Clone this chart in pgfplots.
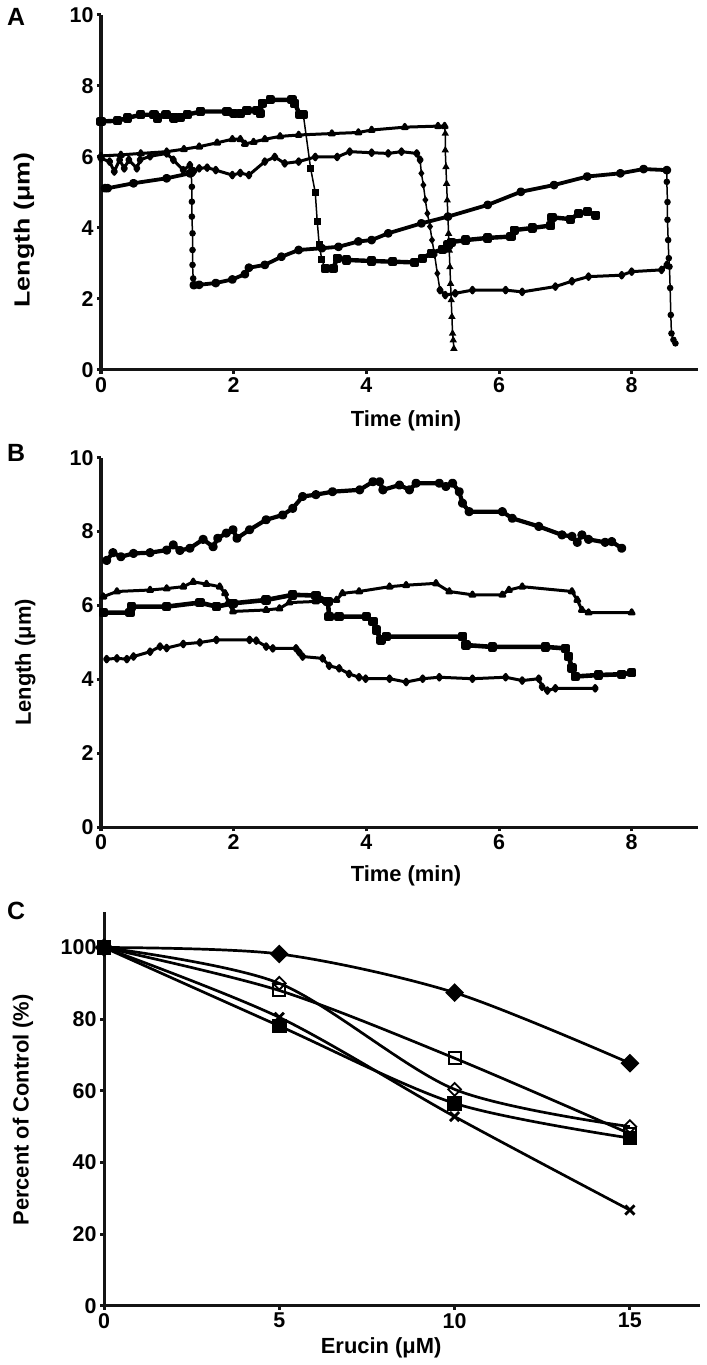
\documentclass[border=0pt]{standalone}
\usepackage{fontspec}
\setmainfont{Liberation Sans}
\usepackage{graphicx}
\usepackage{pgfplots}
\pgfplotsset{compat=1.18}
\newcommand{\lab}{\fontsize{22}{22}\selectfont\bfseries}
\newcommand{\tlab}{\fontsize{21.5}{21.5}\selectfont\bfseries}
\pgfplotsset{
  panel/.style={
    scale only axis,
    axis lines*=left,
    axis line style={line width=3bp, black!92},
    tick align=outside,
    major tick length=4bp,
    tick style={line width=3bp, black!92},
    tick label style={font=\tlab},
    label style={font=\lab},
    /pgf/number format/assume math mode=true,
    clip=false,
    xlabel style={anchor=center},
    ylabel style={anchor=center},
  },
  dense/.style={black, line width=3bp, line join=round},
  drop/.style={black, line width=1.5bp},
  msq/.style={mark=square*, mark size=2.4bp, mark options={solid}},
  mtr/.style={mark=triangle*, mark size=2.8bp, mark options={solid}},
  mdi/.style={mark=diamond*, mark size=2.8bp, mark options={solid}},
  mci/.style={mark=*, mark size=2.5bp, mark options={solid}},
}
\begin{document}
\begin{tikzpicture}
\useasboundingbox (0bp,0bp) rectangle (707bp,1365bp);
\node[font=\fontsize{25}{25}\selectfont\bfseries] at (16bp,1348.5bp) {A};
\node[font=\fontsize{25}{25}\selectfont\bfseries] at (16bp,912bp) {B};
\node[font=\fontsize{25}{25}\selectfont\bfseries] at (16bp,454bp) {C};

% ---------------- Panel A ----------------
\begin{axis}[panel, at={(101bp,995bp)}, anchor=south west,
  width=597bp, height=355bp, xmin=0, xmax=9, ymin=0, ymax=10,
  xtick={0,2,4,6,8}, ytick={0,2,4,6,8,10},
  xlabel={Time (min)}, ylabel={\scalebox{1.22}[1]{Length (μm)}},
  xlabel style={at={(rel axis cs:0.511,-0.1437)}},
  ylabel style={at={(rel axis cs:-0.129,0.394)}}]
% squares
\addplot[dense, msq, line width=4.4bp] coordinates {
(0,7.0) (0.25,7.02) (0.4,7.1) (0.6,7.19) (0.8,7.19) (0.85,7.1) (0.98,7.19) (1.1,7.1)
(1.2,7.12) (1.3,7.19) (1.5,7.28) (1.9,7.28) (2.0,7.23) (2.1,7.23) (2.2,7.32) (2.35,7.32)
(2.4,7.23) (2.43,7.51) (2.55,7.61) (2.88,7.61) (2.92,7.51) (3.0,7.19) (3.05,7.19)};
\addplot[drop, msq, mark size=2.8bp] coordinates {
(3.05,7.19) (3.16,5.68) (3.23,5.0) (3.26,4.18) (3.29,3.52) (3.33,3.1) (3.38,2.86)};
\addplot[dense, msq, line width=4.4bp] coordinates {
(3.38,2.86) (3.5,2.86) (3.56,3.15) (3.7,3.1) (4.08,3.07) (4.4,3.05) (4.73,3.03) (4.85,3.15)
(4.98,3.29) (5.15,3.4) (5.23,3.52) (5.28,3.6) (5.5,3.66) (5.83,3.72) (6.18,3.76) (6.23,3.94)
(6.5,4.0) (6.78,4.07) (6.8,4.3) (7.08,4.25) (7.2,4.4) (7.33,4.46) (7.46,4.36)};
% triangles
\addplot[dense, mtr] coordinates {
(0,6.03) (0.3,6.06) (0.6,6.1) (0.99,6.15) (1.25,6.22) (1.48,6.29) (1.75,6.4) (1.98,6.5)
(2.1,6.5) (2.17,6.37) (2.3,6.42) (2.47,6.5) (2.7,6.58) (2.98,6.62) (3.48,6.66) (3.88,6.69)
(4.08,6.76) (4.58,6.84) (5.08,6.87) (5.18,6.87)};
\addplot[drop, mtr] coordinates {
(5.18,6.87) (5.19,6.66) (5.19,6.19) (5.2,5.72) (5.21,5.25) (5.22,4.78) (5.23,4.31) (5.24,3.84)
(5.25,3.37) (5.26,2.9) (5.27,2.43) (5.28,1.97) (5.29,1.5) (5.30,1.03) (5.31,0.84) (5.32,0.6)};
% diamonds
\addplot[dense, mdi] coordinates {
(0,5.96) (0.13,5.87) (0.2,5.59) (0.28,5.92) (0.35,5.68) (0.42,5.92) (0.54,5.68) (0.59,5.92)
(0.74,6.02) (0.99,6.1) (1.09,5.92) (1.24,5.63) (1.34,5.77) (1.4,5.6) (1.48,5.68) (1.6,5.7)
(1.73,5.63) (1.98,5.49) (2.1,5.55) (2.23,5.49) (2.47,5.87) (2.62,6.0) (2.77,5.82) (2.98,5.87)
(3.23,6.0) (3.56,6.0) (3.75,6.15) (4.08,6.12) (4.33,6.1) (4.53,6.15) (4.76,6.1) (4.81,5.92)};
\addplot[drop, mdi] coordinates {
(4.81,5.92) (4.83,5.54) (4.86,5.21) (4.89,4.79) (4.92,4.41) (4.96,4.04) (4.99,3.66) (5.03,3.24)
(5.07,2.72) (5.11,2.25)};
\addplot[dense, mdi] coordinates {
(5.11,2.25) (5.19,2.11) (5.34,2.16) (5.6,2.25) (6.1,2.25) (6.35,2.2) (6.85,2.35) (7.1,2.5)
(7.35,2.63) (7.85,2.67) (8.0,2.77) (8.45,2.82) (8.53,2.96)};
% circles
\addplot[dense, mci, line width=3.8bp] coordinates {
(0.06,5.12) (0.1,5.12) (0.49,5.26) (0.99,5.4) (1.34,5.54) (1.36,5.55)};
\addplot[drop, mci] coordinates {
(1.36,5.55) (1.37,5.16) (1.37,4.74) (1.37,4.32) (1.38,3.85) (1.38,3.38) (1.38,2.96) (1.39,2.58) (1.4,2.39)};
\addplot[dense, mci, line width=3.8bp] coordinates {
(1.4,2.39) (1.48,2.4) (1.73,2.45) (1.98,2.55) (2.17,2.7) (2.23,2.88) (2.47,2.96) (2.72,3.19)
(2.98,3.38) (3.33,3.43) (3.58,3.47) (3.88,3.62) (4.08,3.66) (4.33,3.85) (4.83,4.13) (5.23,4.32)
(5.83,4.65) (6.33,5.02) (6.83,5.21) (7.33,5.45) (7.83,5.54) (8.18,5.66) (8.53,5.63)};
\addplot[drop, mci] coordinates {
(8.53,5.63) (8.53,5.3) (8.54,4.73) (8.54,4.23) (8.55,3.66) (8.56,3.15) (8.57,2.91) (8.58,2.31)
(8.59,1.55) (8.6,1.03) (8.63,0.85) (8.66,0.75)};
\end{axis}

% ---------------- Panel B ----------------
\begin{axis}[panel, at={(101bp,537.7bp)}, anchor=south west,
  width=597bp, height=369.6bp, xmin=0, xmax=9, ymin=0, ymax=10,
  xtick={0,2,4,6,8}, ytick={0,2,4,6,8,10},
  xlabel={Time (min)}, ylabel={Length (μm)},
  xlabel style={at={(rel axis cs:0.511,-0.132)}},
  ylabel style={at={(rel axis cs:-0.127,0.446)}}]
\addplot[dense, mci, line width=4.2bp] coordinates {
(0.085,7.22) (0.18,7.43) (0.3,7.32) (0.49,7.41) (0.74,7.43) (0.99,7.5) (1.09,7.64) (1.19,7.49)
(1.34,7.55) (1.54,7.79) (1.69,7.59) (1.76,7.82) (1.89,7.96) (1.99,8.05) (2.05,7.82) (2.24,8.05)
(2.49,8.32) (2.74,8.45) (2.89,8.63) (3.04,8.95) (3.24,9.0) (3.49,9.08) (3.9,9.13) (4.1,9.35)
(4.2,9.35) (4.25,9.13) (4.5,9.26) (4.65,9.13) (4.75,9.31) (5.1,9.31) (5.2,9.22) (5.3,9.31)
(5.4,9.08) (5.45,8.77) (5.55,8.54) (6.05,8.54) (6.2,8.36) (6.6,8.14) (6.95,7.91) (7.1,7.87)
(7.18,7.71) (7.25,7.91) (7.35,7.79) (7.6,7.71) (7.7,7.73) (7.85,7.55)};
\addplot[dense, mtr] coordinates {
(0.035,6.24) (0.24,6.38) (0.74,6.42) (0.99,6.46) (1.24,6.51) (1.39,6.64) (1.59,6.58) (1.79,6.51)
(1.87,6.33) (1.92,6.08) (1.99,5.84) (2.49,5.88) (2.69,5.92) (2.84,6.08) (3.24,6.11) (3.39,6.11)
(3.55,6.15) (3.64,6.33) (3.89,6.38) (4.35,6.51) (4.6,6.55) (5.05,6.6) (5.25,6.38) (5.6,6.29)
(6.05,6.29) (6.15,6.42) (6.35,6.51) (7.1,6.38) (7.18,6.15) (7.25,5.88) (7.35,5.81) (8.0,5.81)};
\addplot[dense, msq, line width=4.6bp] coordinates {
(0.035,5.81) (0.44,5.81) (0.46,5.97) (0.99,5.97) (1.49,6.08) (1.74,5.97) (1.99,6.06) (2.49,6.15)
(2.89,6.29) (3.24,6.27) (3.42,6.11) (3.44,5.7) (3.59,5.7) (4.0,5.7) (4.1,5.57) (4.15,5.34)
(4.22,5.07) (4.3,5.16) (5.45,5.16) (5.5,4.93) (5.9,4.88) (6.7,4.88) (7.0,4.84) (7.05,4.62)
(7.1,4.31) (7.15,4.08) (7.5,4.12) (7.85,4.14) (8.0,4.18)};
\addplot[dense, mdi] coordinates {
(0.085,4.55) (0.24,4.57) (0.39,4.55) (0.49,4.62) (0.74,4.75) (0.89,4.89) (0.99,4.85) (1.24,4.96)
(1.49,5.0) (1.74,5.07) (2.24,5.07) (2.34,5.05) (2.49,4.89) (2.59,4.84) (2.94,4.84) (2.99,4.73)
(3.04,4.62) (3.34,4.57) (3.44,4.37) (3.59,4.3) (3.74,4.15) (3.89,4.06) (3.99,4.02) (4.35,4.02)
(4.6,3.93) (4.85,4.02) (5.1,4.06) (5.6,4.02) (6.1,4.06) (6.35,3.97) (6.6,4.02) (6.65,3.8)
(6.73,3.7) (6.85,3.76) (7.45,3.76)};
\end{axis}

% ---------------- Panel C ----------------
\begin{axis}[panel, at={(104bp,59.3bp)}, anchor=south west,
  width=596bp, height=394bp, xmin=0, xmax=17, ymin=0, ymax=110,
  xtick={0,5,10,15}, ytick={0,20,40,60,80,100},
  xlabel={Erucin (μM)}, ylabel={Percent of Control (\%)},
  xlabel style={at={(rel axis cs:0.465,-0.107)}},
  ylabel style={at={(rel axis cs:-0.136,0.497)}}]
\addplot[black, line width=2.7bp, smooth, mark=square*, mark size=5.3bp, mark options={rotate=45, solid}]
  coordinates {(0,100) (5,98.2) (10,87.4) (15,67.7)};
\addplot[black, line width=2.7bp, smooth, mark=square, mark size=6bp, mark options={solid, fill=white, line width=2bp}]
  coordinates {(0,100) (5,88) (10,69.1) (15,48)};
\addplot[black, line width=2.7bp, smooth, mark=square, mark size=4.5bp, mark options={rotate=45, solid, fill=white, line width=1.8bp}]
  coordinates {(0,100) (5,90) (10,60.4) (15,50)};
\addplot[black, line width=2.7bp, smooth, mark=square*, mark size=6bp, mark options={solid}]
  coordinates {(0,100) (5,78.1) (10,56.5) (15,46.8)};
\addplot[black, line width=2.7bp, smooth, mark=x, mark size=6.5bp, mark options={solid, line width=2.8bp}]
  coordinates {(0,100) (5,80.5) (10,52.8) (15,26.7)};
\end{axis}
\end{tikzpicture}
\end{document}
